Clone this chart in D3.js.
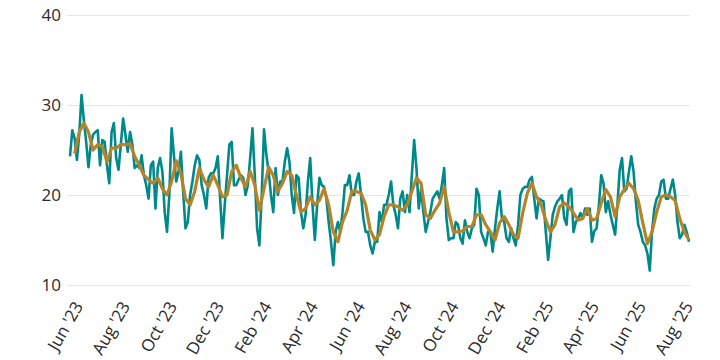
<!DOCTYPE html>
<html>
<head>
<meta charset="utf-8">
<script src="https://cdn.jsdelivr.net/npm/d3@7"></script>
<style>
  body { margin: 0; background: #fff; }
  svg { display: block; font-family: "Open Sans", sans-serif; }
  .grid line { stroke: #e6e6e6; stroke-width: 1; }
  .label { fill: #2b2b2b; }
  path.daily { fill: none; stroke: #00898a; stroke-width: 2.6; stroke-linejoin: round; }
  path.avg { fill: none; stroke: #b5832a; stroke-width: 3.2; stroke-linejoin: round; }
</style>
</head>
<body>
<script>
// first date on the chart, daily readings are every 3 days, the average every 6
var startDate = '2023-05-20'
var dailyStep = 3
var avgStart = 6
var avgStep = 6

var dailyValues = [
  24.3, 27.2, 26.3, 23.9, 26.7, 31.1, 28.3, 25.9, 23.1, 25.6, 26.7, 27.0, 27.2, 23.3, 26.1, 25.9,
  23.3, 21.3, 27.0, 28.0, 24.1, 22.8, 25.6, 28.5, 26.7, 24.8, 27.0, 25.6, 23.0, 23.3, 23.0, 24.4,
  22.2, 21.1, 19.6, 23.3, 23.7, 18.5, 23.0, 24.1, 22.6, 18.1, 15.9, 20.0,
  27.4, 24.4, 21.5, 22.6, 24.8, 20.4, 16.3, 17.0, 20.0, 21.5, 23.3, 24.4, 23.9, 21.1, 20.0, 18.5,
  21.9, 22.4, 22.4, 23.0, 24.3, 19.6, 15.2, 18.9, 22.2, 25.6, 25.9, 21.1, 21.1, 21.7, 22.2, 21.9,
  20.0, 21.1, 24.1, 27.4, 22.2, 16.3, 14.4, 20.0, 27.3, 24.5, 22.6, 20.0,
  18.1, 23.0, 20.0, 21.5, 21.5, 23.7, 25.2, 23.7, 20.0, 18.0, 22.2, 21.9, 18.1, 16.3, 17.8, 21.5,
  24.1, 18.9, 15.0, 18.9, 21.9, 21.1, 20.9, 19.6, 17.0, 14.8, 12.2, 15.9, 17.0, 15.9, 18.1, 21.1,
  21.1, 22.2, 20.0, 20.0, 21.5, 22.4, 20.0, 17.4, 15.9, 15.9, 14.4, 13.5, 14.8,
  14.8, 18.1, 17.0, 18.9, 18.9, 20.0, 21.5, 18.9, 17.8, 16.3, 19.6, 20.4, 18.1, 20.0, 18.1, 22.2,
  26.1, 23.0, 18.5, 20.7, 18.1, 15.9, 17.0, 18.1, 19.6, 20.0, 20.4, 19.6, 21.1, 23.0, 17.4, 15.0,
  15.2, 15.2, 17.0, 16.7, 15.2, 14.6, 17.2, 15.9, 15.2, 16.3, 16.7, 20.7,
  20.0, 15.9, 15.2, 14.4, 15.9, 15.9, 13.7, 16.3, 18.5, 20.4, 17.4, 17.0, 15.2, 14.8, 16.3, 15.2,
  14.4, 16.7, 20.0, 20.7, 20.9, 20.9, 21.7, 22.0, 19.6, 17.4, 19.6, 19.4, 19.3, 15.9, 12.8, 15.2,
  17.8, 18.7, 19.3, 19.6, 20.0, 17.4, 16.7, 20.4, 20.7, 15.9, 17.0, 17.4, 18.0,
  17.4, 18.5, 17.8, 18.5, 14.8, 16.0, 16.3, 18.9, 22.2, 21.3, 18.1, 19.3, 17.8, 16.7, 15.6, 18.9,
  22.8, 24.1, 20.4, 20.7, 22.6, 24.3, 22.6, 19.3, 16.7, 15.9, 14.8, 14.4, 13.5, 11.6, 16.0, 18.5,
  19.6, 20.0, 21.5, 21.7, 19.6, 19.6, 20.7, 21.7, 20.0, 17.0, 15.2, 15.6, 16.7, 15.9, 14.8
]

var avgValues = [
  24.6, 27.0, 28.0, 27.0, 25.0, 25.6, 25.4, 23.7, 25.2, 25.2, 25.6, 25.6, 25.7, 24.3, 23.3, 22.2,
  21.7, 21.3, 21.9, 20.7, 20.0,
  21.5, 23.8, 22.4, 19.6, 18.9, 20.4, 23.0, 21.7, 20.9, 22.2, 21.1, 19.8, 20.0, 22.6, 23.3, 21.9,
  20.9, 22.6, 21.1, 18.3, 20.7, 23.1,
  22.2, 20.4, 21.3, 22.6, 22.2, 20.0, 18.1, 18.5, 19.8, 18.9, 19.4, 20.7, 18.9, 15.9, 14.8, 17.0,
  18.3, 20.4, 20.4, 20.2, 18.9, 16.1, 15.0,
  15.6, 17.6, 18.9, 18.9, 18.7, 18.3, 18.9, 20.4, 21.9, 21.3, 17.8, 17.4, 18.3, 19.1, 20.9, 18.1,
  15.9, 15.9, 16.0, 16.5, 16.5, 17.8,
  17.8, 16.7, 15.9, 15.0, 16.9, 17.6, 16.7, 15.6, 15.2, 18.0, 20.2, 21.3, 19.8, 18.9, 17.2, 15.9,
  16.7, 18.7, 19.1, 18.7, 18.0, 17.2,
  17.4, 18.5, 17.2, 17.4, 19.1, 20.6, 19.8, 17.6, 19.8, 20.6, 21.3, 20.7, 19.4, 16.9, 14.6, 15.9,
  18.1, 19.8, 20.0, 19.8, 19.4, 17.4, 15.9, 15.0
]

var yTicks = [10, 20, 30, 40]
var tickLabels = ["Jun '23", "Aug '23", "Oct '23", "Dec '23", "Feb '24", "Apr '24", "Jun '24",
  "Aug '24", "Oct '24", "Dec '24", "Feb '25", "Apr '25", "Jun '25", "Aug '25"]

var parseDay = d3.timeParse('%Y-%m-%d')
var parseTick = d3.timeParse("%b '%y")
var day0 = parseDay(startDate)

var daily = dailyValues.map(function(v, i){ return {date: d3.timeDay.offset(day0, i * dailyStep), value: v} })
var avg = avgValues.map(function(v, i){ return {date: d3.timeDay.offset(day0, avgStart + i * avgStep), value: v} })

var totalWidth = 720, totalHeight = 360
var margin = {left: 70, right: 31, top: 15, bottom: 75}
var width = totalWidth - margin.left - margin.right
var height = totalHeight - margin.top - margin.bottom

var svg = d3.select('body').append('svg')
  .attr('width', totalWidth)
  .attr('height', totalHeight)
  .append('g')
  .attr('transform', 'translate(' + margin.left + ',' + margin.top + ')')

var x = d3.scaleTime()
  .domain(d3.extent(daily, function(d){ return d.date }))
  .range([0, width])
var y = d3.scaleLinear().domain([10, 40]).range([height, 0])

// gridlines + y labels
var yAxis = d3.axisLeft(y).tickValues(yTicks).tickSize(-(width + 4)).tickPadding(6)
var yG = svg.append('g').attr('class', 'grid').attr('transform', 'translate(-3,0)').call(yAxis)
yG.select('.domain').remove()
yG.selectAll('text').attr('class', 'label').style('font-size', '17px').style('font-family', 'Open Sans, sans-serif')

// x labels, no axis line
var xAxis = d3.axisBottom(x)
  .tickValues(tickLabels.map(function(t){ return parseTick(t) }))
  .tickFormat(function(d, i){ return tickLabels[i] })
  .tickSize(0)
var xG = svg.append('g').attr('transform', 'translate(0,' + height + ')').call(xAxis)
xG.select('.domain').remove()
xG.selectAll('text')
  .attr('class', 'label')
  .style('font-size', '17px')
  .style('font-family', 'Open Sans, sans-serif')
  .attr('text-anchor', 'end')
  .attr('y', 0).attr('dy', 0)
  .attr('transform', 'translate(4,21) rotate(-60)')

var line = d3.line()
  .x(function(d){ return x(d.date) })
  .y(function(d){ return y(d.value) })

svg.append('path').attr('class', 'daily').attr('d', line(daily))
svg.append('path').attr('class', 'avg').attr('d', line(avg))
</script>
</body>
</html>
